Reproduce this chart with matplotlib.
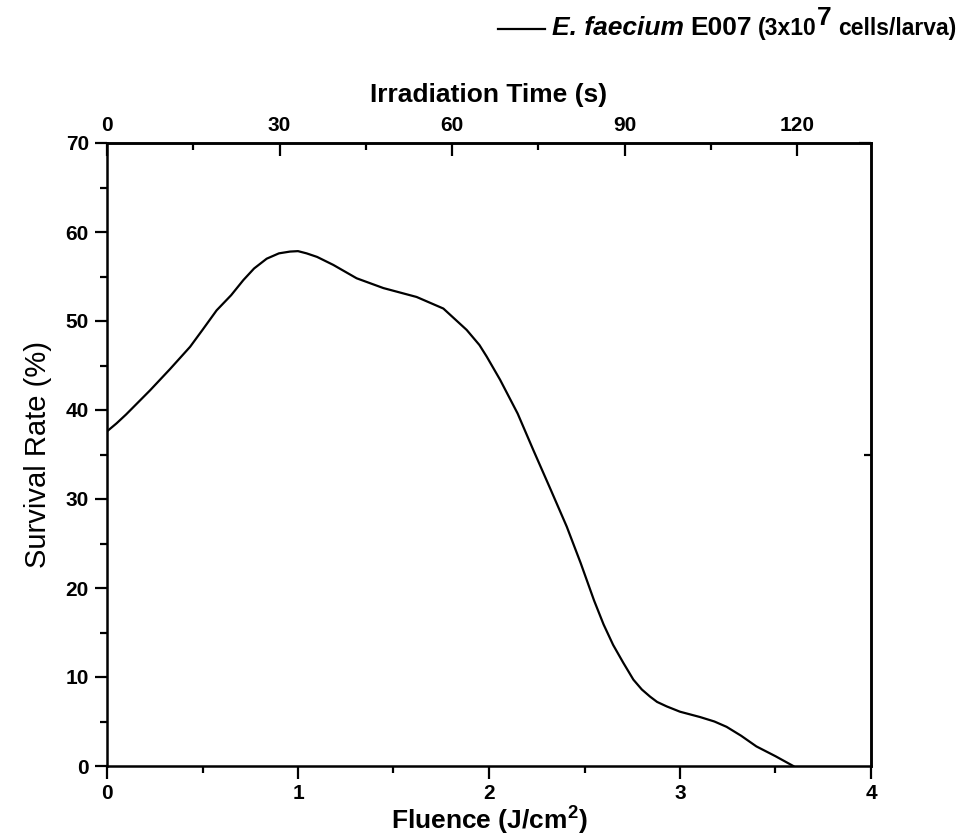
import numpy as np
import matplotlib
matplotlib.use("Agg")
import matplotlib.pyplot as plt
from matplotlib.ticker import MultipleLocator, FixedLocator, NullFormatter
from matplotlib.lines import Line2D

plt.rcParams['font.family'] = ['Liberation Sans', 'DejaVu Sans']
plt.rcParams['font.weight'] = 'bold'
plt.rcParams['axes.labelweight'] = 'bold'
plt.rcParams['mathtext.fontset'] = 'custom'
plt.rcParams['mathtext.rm'] = 'Liberation Sans:bold'
plt.rcParams['mathtext.bf'] = 'Liberation Sans:bold'

# --- Data ---
fluence = [0.00, 0.05, 0.10, 0.225, 0.33, 0.435, 0.50, 0.574, 0.65, 0.714,
           0.77, 0.836, 0.90, 0.958, 1.00, 1.045, 1.10, 1.185, 1.307, 1.447,
           1.621, 1.761, 1.883, 1.95, 1.988, 2.058, 2.15, 2.232, 2.32, 2.407,
           2.48, 2.55, 2.60, 2.65, 2.703, 2.756, 2.80, 2.843, 2.88, 2.93,
           3.00, 3.105, 3.18, 3.244, 3.32, 3.40, 3.50, 3.593]
survival = [37.6, 38.5, 39.5, 42.2, 44.6, 47.1, 49.0, 51.2, 52.9, 54.6,
            55.9, 57.0, 57.6, 57.8, 57.85, 57.6, 57.2, 56.3, 54.8, 53.7,
            52.7, 51.4, 49.0, 47.3, 46.0, 43.4, 39.6, 35.5, 31.2, 26.9,
            22.8, 18.6, 15.9, 13.6, 11.6, 9.7, 8.6, 7.8, 7.2, 6.7,
            6.1, 5.5, 5.0, 4.4, 3.4, 2.2, 1.1, 0.0]
seconds_per_fluence = 33.2  # 120 s sits at ~3.61 J/cm2
time_ticks = [0, 30, 60, 90, 120]

W, H = 964, 839
fig = plt.figure(figsize=(W / 100, H / 100), dpi=100)
ax = fig.add_axes([107 / W, 1 - 766 / H, (871 - 107) / W, (766 - 143) / H])

ax.plot(fluence, survival, color='black', lw=1.6)

ax.set_xlim(0, 4)
ax.set_ylim(0, 70)
ax.xaxis.set_major_locator(MultipleLocator(1))
ax.xaxis.set_minor_locator(MultipleLocator(0.5))
ax.yaxis.set_major_locator(MultipleLocator(10))
ax.yaxis.set_minor_locator(MultipleLocator(5))
ax.tick_params(which='both', direction='out', width=1.6, labelsize=15, pad=4,
               top=False, right=False)
ax.tick_params(which='major', length=9)
ax.tick_params(which='minor', length=5)
for s in ax.spines.values():
    s.set_linewidth(1.8)

ax.set_xlabel("Fluence (J/cm$^{2}$)", fontsize=19, labelpad=0)
ax.set_ylabel("Survival Rate (%)", fontsize=21, fontweight='normal', labelpad=10)

# top axis: irradiation time
top = ax.secondary_xaxis('top', functions=(lambda f: f * seconds_per_fluence,
                                           lambda t: t / seconds_per_fluence))
top.xaxis.set_major_locator(FixedLocator(time_ticks))
top.xaxis.set_minor_locator(MultipleLocator(15))
top.tick_params(which='both', direction='in', width=1.6, labelsize=15, pad=6)
top.tick_params(which='major', length=9)
top.tick_params(which='minor', length=5)
top.spines['top'].set_linewidth(1.8)
top.set_xlabel("Irradiation Time (s)", fontsize=19, labelpad=10)

# right axis: only a couple of inward ticks
right = ax.secondary_yaxis('right')
right.yaxis.set_major_locator(FixedLocator([70]))
right.yaxis.set_minor_locator(FixedLocator([35]))
right.yaxis.set_major_formatter(NullFormatter())
right.tick_params(which='both', direction='in', width=1.6)
right.tick_params(which='major', length=9)
right.tick_params(which='minor', length=5)
right.spines['right'].set_linewidth(1.8)

# --- legend above the plot, pieces placed one after another ---
fig.add_artist(Line2D([498 / W, 545 / W], [1 - 29 / H] * 2,
                      transform=fig.transFigure, color='black', lw=1.6))
pieces = [("E. faecium", 19, 'italic', 0, 0),
          ("E007", 19, 'normal', 0, 6),
          ("(3x10", 16.5, 'normal', 0, 6),
          ("7", 19, 'normal', 10, 1),
          ("cells/larva)", 16.5, 'normal', 0, 6)]
renderer = fig.canvas.get_renderer()
x = 552
for txt, size, style, rise, gap in pieces:
    x += gap
    t = fig.text(x / W, 1 - (35 - rise) / H, txt, fontsize=size, style=style,
                 weight='bold', va='baseline')
    bb = t.get_window_extent(renderer)
    x = bb.x1

fig.savefig("out.png", dpi=100)
